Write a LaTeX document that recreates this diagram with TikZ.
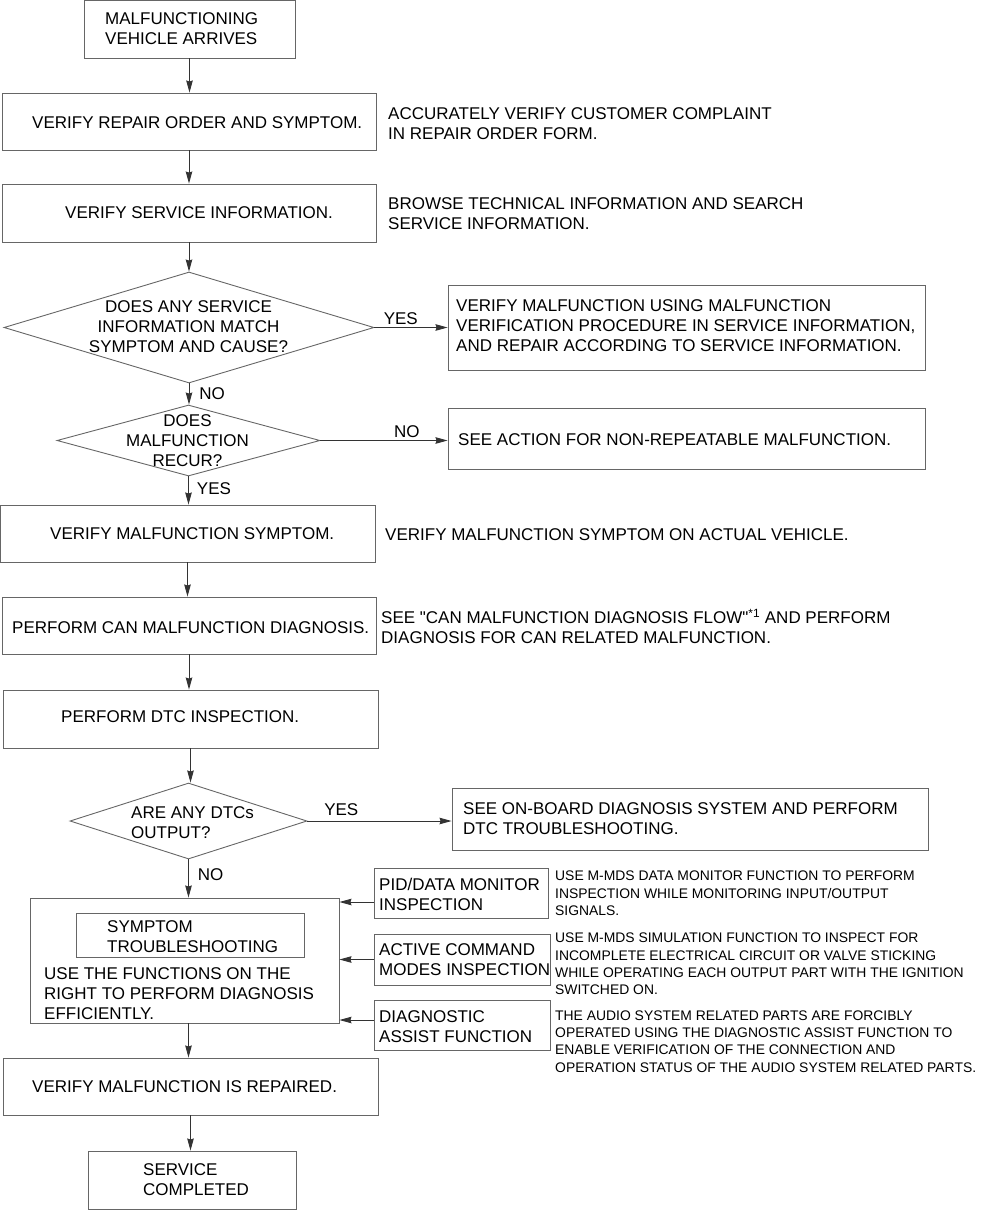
\documentclass[tikz,border=0pt]{standalone}
\usepackage{fontspec}
\setmainfont{Liberation Sans}[Ligatures=TeXOff]
\usetikzlibrary{shapes.geometric,arrows.meta}

\newcommand\stepfont{\fontsize{17}{20}\selectfont}
\newcommand\notefont{\fontsize{13.9}{17.4}\selectfont}

\tikzset{
  box/.style 2 args={draw=black!60, line width=0.9pt, minimum width=#1pt, minimum height=#2pt, inner sep=0pt},
  dia/.style 2 args={diamond, draw=black!60, line width=0.9pt, minimum width=#1pt, minimum height=#2pt, inner sep=0pt},
  txt/.style={anchor=west, inner sep=0pt, yshift=-1pt, align=left, font=\stepfont},
  ctxt/.style={inner sep=0pt, yshift=-1pt, align=center, font=\stepfont},
  note/.style={anchor=west, inner sep=0pt, yshift=-1pt, align=left, font=\notefont},
  lbl/.style={inner sep=2pt, font=\stepfont},
  arr/.style={draw=black!80, line width=0.9pt, -{Stealth[length=12pt,width=6.5pt,inset=1pt]}}
}

\begin{document}
\begin{tikzpicture}[x=1pt, y=-1pt]
\useasboundingbox (0,0) rectangle (980,1210);

% main column
\node[box={211}{58}] (arrive) at (189.5,29) {};
\node[txt] (arrivetxt) at (105,28) {MALFUNCTIONING\\VEHICLE ARRIVES};

\node[box={374}{57}] (repair) at (189,121.5) {};
\node[txt] (repairtxt) at (32,122) {VERIFY REPAIR ORDER AND SYMPTOM.};
\node[txt] (repairnote) at (388,123) {ACCURATELY VERIFY CUSTOMER COMPLAINT\\IN REPAIR ORDER FORM.};

\node[box={374}{58}] (svcinfo) at (189,213) {};
\node[txt] (svcinfotxt) at (65,212) {VERIFY SERVICE INFORMATION.};
\node[txt] (svcinfonote) at (388,213) {BROWSE TECHNICAL INFORMATION AND SEARCH\\SERVICE INFORMATION.};

\node[dia={370}{111}] (match) at (189,327.5) {};
\node[ctxt] (matchtxt) at (188.5,325.5) {DOES ANY SERVICE\\INFORMATION MATCH\\SYMPTOM AND CAUSE?};

\node[box={477}{85}] (usesvc) at (686.5,327.5) {};
\node[txt] (usesvctxt) at (456,325) {VERIFY MALFUNCTION USING MALFUNCTION\\VERIFICATION PROCEDURE IN SERVICE INFORMATION,\\AND REPAIR ACCORDING TO SERVICE INFORMATION.};

\node[dia={263}{71}] (recur) at (188.5,440.5) {};
\node[ctxt] (recurtxt) at (187.5,439.5) {DOES\\MALFUNCTION\\RECUR?};

\node[box={477}{61}] (nonrep) at (686.5,438.5) {};
\node[txt] (nonreptxt) at (458,439) {SEE ACTION FOR NON-REPEATABLE MALFUNCTION.};

\node[box={375}{57}] (symptom) at (187.5,533.5) {};
\node[txt] (symptomtxt) at (50,533) {VERIFY MALFUNCTION SYMPTOM.};
\node[txt] (symptomnote) at (385,534) {VERIFY MALFUNCTION SYMPTOM ON ACTUAL VEHICLE.};

\node[box={374}{57}] (can) at (189,625.5) {};
\node[txt] (cantxt) at (12,627) {PERFORM CAN MALFUNCTION DIAGNOSIS.};
\node[txt] (cannote) at (381,625.5) {SEE "CAN MALFUNCTION DIAGNOSIS FLOW"\textsuperscript{*1} AND PERFORM\\DIAGNOSIS FOR CAN RELATED MALFUNCTION.};

\node[box={375}{58}] (dtc) at (190.5,719) {};
\node[txt] (dtctxt) at (61,716) {PERFORM DTC INSPECTION.};

\node[dia={237}{76}] (dtcout) at (188.5,821) {};
\node[txt] (dtcouttxt) at (131,822) {ARE ANY DTCs\\OUTPUT?};

\node[box={476}{62}] (obd) at (690,819) {};
\node[txt] (obdtxt) at (463,817.5) {SEE ON-BOARD DIAGNOSIS SYSTEM AND PERFORM\\DTC TROUBLESHOOTING.};

% symptom troubleshooting block
\node[box={309}{125}] (trouble) at (184.5,960.5) {};
\node[box={228}{44}] (troublehead) at (190,935) {};
\node[txt] (troubleheadtxt) at (107,936) {SYMPTOM\\TROUBLESHOOTING};
\node[txt] (troubletxt) at (44,993) {USE THE FUNCTIONS ON THE\\RIGHT TO PERFORM DIAGNOSIS\\EFFICIENTLY.};

% functions on the right
\node[box={174}{50}] (pid) at (461,893) {};
\node[txt] (pidtxt) at (379,893.5) {PID/DATA MONITOR\\INSPECTION};
\node[note] (pidnote) at (555,892.5) {USE M-MDS DATA MONITOR FUNCTION TO PERFORM\\INSPECTION WHILE MONITORING INPUT/OUTPUT\\SIGNALS.};

\node[box={176}{51}] (active) at (462,959.5) {};
\node[txt] (activetxt) at (379,959) {ACTIVE COMMAND\\MODES INSPECTION};
\node[note] (activenote) at (555,963) {USE M-MDS SIMULATION FUNCTION TO INSPECT FOR\\INCOMPLETE ELECTRICAL CIRCUIT OR VALVE STICKING\\WHILE OPERATING EACH OUTPUT PART WITH THE IGNITION\\SWITCHED ON.};

\node[box={176}{50}] (assist) at (462,1025) {};
\node[txt] (assisttxt) at (379,1026) {DIAGNOSTIC\\ASSIST FUNCTION};
\node[note] (assistnote) at (555,1040.5) {THE AUDIO SYSTEM RELATED PARTS ARE FORCIBLY\\OPERATED USING THE DIAGNOSTIC ASSIST FUNCTION TO\\ENABLE VERIFICATION OF THE CONNECTION AND\\OPERATION STATUS OF THE AUDIO SYSTEM RELATED PARTS.};

\node[box={375}{57}] (repaired) at (190.5,1086.5) {};
\node[txt] (repairedtxt) at (32,1086) {VERIFY MALFUNCTION IS REPAIRED.};

\node[box={208}{58}] (done) at (192,1180) {};
\node[txt] (donetxt) at (143,1179) {SERVICE\\COMPLETED};

% connectors
\draw[arr] (arrive.south) -- (arrive.south |- repair.north);
\draw[arr] (repair.south) -- (repair.south |- svcinfo.north);
\draw[arr] (svcinfo.south) -- (svcinfo.south |- match.north);
\draw[arr] (match.east) -- node[lbl, pos=0.36, above] {YES} (match.east -| usesvc.west);
\draw[arr] (match.south) -- node[lbl, pos=0.5, right=8pt] {NO} (match.south |- recur.north);
\draw[arr] (recur.east) -- node[lbl, pos=0.68, above] {NO} (recur.east -| nonrep.west);
\draw[arr] (recur.south) -- node[lbl, pos=0.45, right=6pt] {YES} (recur.south |- symptom.north);
\draw[arr] (symptom.south) -- (symptom.south |- can.north);
\draw[arr] (can.south) -- (can.south |- dtc.north);
\draw[arr] (dtc.south) -- (dtc.south |- dtcout.north);
\draw[arr] (dtcout.east) -- node[lbl, pos=0.235, above=3pt] {YES} (dtcout.east -| obd.west);
\draw[arr] (dtcout.south) -- node[lbl, pos=0.41, right=7pt] {NO} (dtcout.south |- trouble.north);
\draw[arr] ([yshift=-9pt]pid.west) coordinate (pidend) -- (trouble.east |- pidend);
\draw[arr] (active.west) -- (trouble.east |- active.west);
\draw[arr] ([yshift=5pt]assist.west) coordinate (assistend) -- (trouble.east |- assistend);
\draw[arr] (dtcout.south |- trouble.south) -- (dtcout.south |- repaired.north);
\draw[arr] (repaired.south) -- (repaired.south |- done.north);

\end{tikzpicture}
\end{document}
